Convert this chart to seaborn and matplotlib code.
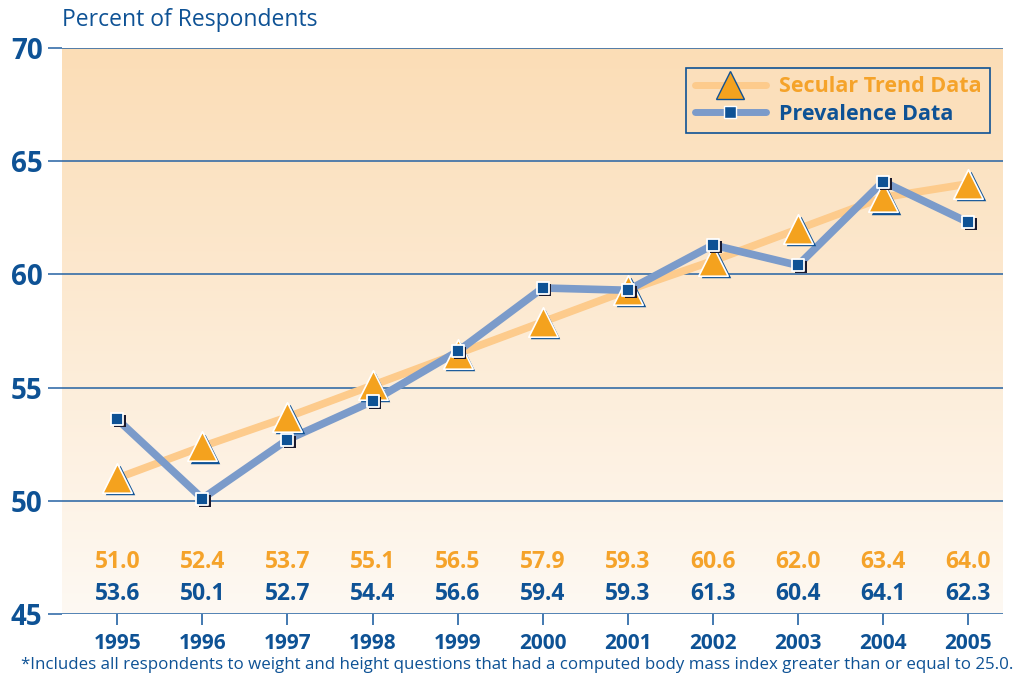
import numpy as np
import pandas as pd
import matplotlib
matplotlib.use("Agg")
import matplotlib.pyplot as plt
import matplotlib.transforms as mtransforms
from matplotlib.lines import Line2D
from matplotlib.colors import LinearSegmentedColormap
import seaborn as sns

years = [1995, 1996, 1997, 1998, 1999, 2000, 2001, 2002, 2003, 2004, 2005]
secular = [51.0, 52.4, 53.7, 55.1, 56.5, 57.9, 59.3, 60.6, 62.0, 63.4, 64.0]
prevalence = [53.6, 50.1, 52.7, 54.4, 56.6, 59.4, 59.3, 61.3, 60.4, 64.1, 62.3]
y_ticks = [45, 50, 55, 60, 65, 70]
ylabel_text = "Percent of Respondents"
footnote = ("*Includes all respondents to weight and height questions that had a "
            "computed body mass index greater than or equal to 25.0.")
legend_labels = ["Secular Trend Data", "Prevalence Data"]

DARK = "#0E5295"
ORANGE_TXT = "#F5A32A"
TRI = "#F4A21E"
TREND_LINE = "#FDCB8C"
PREV_LINE = "#7B9BCA"
GRID = "#2462A3"

sns.set_theme(style="white")
plt.rcParams["font.family"] = ["Open Sans", "DejaVu Sans"]

df = pd.DataFrame({"year": years, "secular": secular, "prevalence": prevalence})

fig = plt.figure(figsize=(10.22, 6.94), dpi=100)
ax = fig.add_axes([62 / 1022, 1 - 614 / 694, (1003 - 62) / 1022, (614 - 48) / 694])

xmin, xmax = 1994.35, 2005.41
ymin, ymax = 45, 70
ax.set_xlim(xmin, xmax)
ax.set_ylim(ymin, ymax)

# gradient background
cmap = LinearSegmentedColormap.from_list("bg", ["#FEF9F3", "#FBDDB6"])
grad = np.linspace(0, 1, 256).reshape(-1, 1)
ax.imshow(grad, extent=[xmin, xmax, ymin, ymax], origin="lower", aspect="auto",
          cmap=cmap, zorder=0)

for s in ax.spines.values():
    s.set_visible(False)

for yv in y_ticks:
    ax.axhline(yv, color=GRID, lw=1.1, zorder=1)

# lines
sns.lineplot(data=df, x="year", y="secular", ax=ax, color=TREND_LINE, lw=5.5,
             zorder=2, legend=False)
sns.lineplot(data=df, x="year", y="prevalence", ax=ax, color=PREV_LINE, lw=5.5,
             zorder=3, legend=False)

shadow = mtransforms.offset_copy(ax.transData, fig=fig, x=2.0, y=-1.5, units="points")
# triangles
sns.scatterplot(data=df, x="year", y="secular", ax=ax, marker="^", s=450,
                color=DARK, edgecolor=DARK, linewidth=0, transform=shadow, zorder=4,
                legend=False)
sns.scatterplot(data=df, x="year", y="secular", ax=ax, marker="^", s=450,
                color=TRI, edgecolor="white", linewidth=1.2, zorder=5, legend=False)
# squares
sns.scatterplot(data=df, x="year", y="prevalence", ax=ax, marker="s", s=80,
                color="#1A1A2E", edgecolor="#1A1A2E", linewidth=0, transform=shadow,
                zorder=6, legend=False)
sns.scatterplot(data=df, x="year", y="prevalence", ax=ax, marker="s", s=80,
                color=DARK, edgecolor="white", linewidth=1.3, zorder=7, legend=False)

# value labels
for x, a, b in zip(years, secular, prevalence):
    ax.text(x, 47.3, f"{a:.1f}", ha="center", va="center", color=ORANGE_TXT,
            fontsize=16.5, fontweight="bold", zorder=8)
    ax.text(x, 45.9, f"{b:.1f}", ha="center", va="center", color=DARK,
            fontsize=16.5, fontweight="bold", zorder=8)

ax.set_xticks(years)
ax.set_xticklabels([str(y) for y in years])
ax.set_yticks(y_ticks)
ax.set_yticklabels([str(v) for v in y_ticks])
ax.tick_params(axis="x", direction="out", length=8, width=1.2, color=GRID,
               labelsize=15, labelcolor=DARK, pad=6, bottom=True)
ax.tick_params(axis="y", direction="out", length=10, width=1.1, color=GRID,
               labelsize=20, labelcolor=DARK, pad=4, left=True)
for lbl in ax.get_xticklabels() + ax.get_yticklabels():
    lbl.set_fontweight("bold")
ax.set_xlabel("")
ax.set_ylabel("")
ax.grid(False)

fig.text(62 / 1022, 1 - 20 / 694, ylabel_text, color=DARK, fontsize=16.5,
         ha="left", va="center")
fig.text(517 / 1022, 1 - 665 / 694, footnote, color=DARK, fontsize=12.2,
         ha="center", va="center")

handles = [
    Line2D([0], [0], color=TREND_LINE, lw=5, marker="^", markersize=20,
           markerfacecolor=TRI, markeredgecolor=DARK, markeredgewidth=1),
    Line2D([0], [0], color=PREV_LINE, lw=5, marker="s", markersize=8,
           markerfacecolor=DARK, markeredgecolor="white", markeredgewidth=1),
]
leg = ax.legend(handles, legend_labels, loc="upper right",
                bbox_to_anchor=(0.986, 0.965), borderaxespad=0, frameon=True,
                fancybox=False, edgecolor=DARK, facecolor="#FBDFBB", framealpha=1,
                prop={"size": 15.5, "weight": "bold"}, handlelength=3.3,
                borderpad=0.4, labelspacing=0.3, handletextpad=0.6)
leg.get_frame().set_linewidth(1.2)
leg.get_texts()[0].set_color(ORANGE_TXT)
leg.get_texts()[1].set_color(DARK)
leg.set_zorder(10)

fig.savefig("out.png", dpi=100)
